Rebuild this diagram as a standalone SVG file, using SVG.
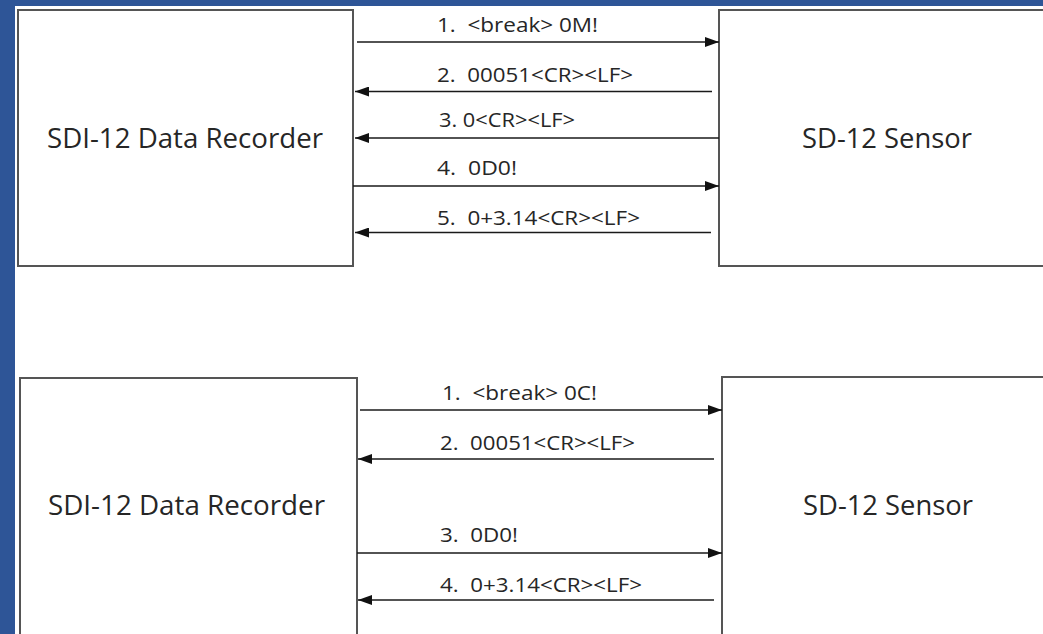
<svg xmlns="http://www.w3.org/2000/svg" width="1043" height="634" viewBox="0 0 1043 634">
<style>
.box{fill:#ffffff;stroke:#555555;stroke-width:2}
.title{font-family:"Open Sans","Liberation Sans",sans-serif;font-size:28px;fill:#262626}
.lbl{font-family:"Open Sans","Liberation Sans",sans-serif;font-size:20px;fill:#262626;white-space:pre}
.msg{stroke:#1a1a1a;stroke-width:1.6;fill:none;marker-end:url(#ah)}
</style>
<defs>
<marker id="ah" markerUnits="userSpaceOnUse" markerWidth="14" markerHeight="10" refX="14" refY="5" orient="auto">
<path d="M0,0 L14,5 L0,10 z" fill="#111111"/>
</marker>
</defs>
<rect x="0" y="0" width="1043" height="634" fill="#2E5597"/>
<rect x="15" y="6" width="1028" height="628" fill="#ffffff"/>

<g id="recorder-top">
<rect class="box" x="18" y="10" width="335" height="256"/>
<text class="title" x="47" y="148" textLength="276" lengthAdjust="spacingAndGlyphs">SDI-12 Data Recorder</text>
</g>
<g id="sensor-top">
<rect class="box" x="719" y="10" width="340" height="256"/>
<text class="title" x="802" y="148" textLength="170" lengthAdjust="spacingAndGlyphs">SD-12 Sensor</text>
</g>
<g id="recorder-bottom">
<rect class="box" x="20" y="378" width="337" height="270"/>
<text class="title" x="48" y="515" textLength="277" lengthAdjust="spacingAndGlyphs">SDI-12 Data Recorder</text>
</g>
<g id="sensor-bottom">
<rect class="box" x="722" y="377" width="340" height="270"/>
<text class="title" x="803" y="515" textLength="170" lengthAdjust="spacingAndGlyphs">SD-12 Sensor</text>
</g>

<g id="connectors">
<line class="msg" x1="357" y1="42" x2="719" y2="42"/>
<line class="msg" x1="712" y1="91.5" x2="355" y2="91.5"/>
<line class="msg" x1="719" y1="138" x2="355" y2="138"/>
<line class="msg" x1="353" y1="186" x2="719" y2="186"/>
<line class="msg" x1="711" y1="232.5" x2="355" y2="232.5"/>

<line class="msg" x1="360" y1="410" x2="722" y2="410"/>
<line class="msg" x1="714" y1="459" x2="358" y2="459"/>
<line class="msg" x1="357" y1="553" x2="722" y2="553"/>
<line class="msg" x1="714" y1="600" x2="358" y2="600"/>
</g>

<g id="labels">
<text class="lbl" xml:space="preserve" x="437" y="32" textLength="161" lengthAdjust="spacingAndGlyphs">1.  &lt;break&gt; 0M!</text>
<text class="lbl" xml:space="preserve" x="437" y="82" textLength="196" lengthAdjust="spacingAndGlyphs">2.  00051&lt;CR&gt;&lt;LF&gt;</text>
<text class="lbl" xml:space="preserve" x="439" y="127" textLength="136" lengthAdjust="spacingAndGlyphs">3. 0&lt;CR&gt;&lt;LF&gt;</text>
<text class="lbl" xml:space="preserve" x="437" y="175" textLength="80" lengthAdjust="spacingAndGlyphs">4.  0D0!</text>
<text class="lbl" xml:space="preserve" x="437" y="225" textLength="203" lengthAdjust="spacingAndGlyphs">5.  0+3.14&lt;CR&gt;&lt;LF&gt;</text>

<text class="lbl" xml:space="preserve" x="442" y="400" textLength="155" lengthAdjust="spacingAndGlyphs">1.  &lt;break&gt; 0C!</text>
<text class="lbl" xml:space="preserve" x="440" y="450" textLength="195" lengthAdjust="spacingAndGlyphs">2.  00051&lt;CR&gt;&lt;LF&gt;</text>
<text class="lbl" xml:space="preserve" x="440" y="542" textLength="78" lengthAdjust="spacingAndGlyphs">3.  0D0!</text>
<text class="lbl" xml:space="preserve" x="440" y="592" textLength="202" lengthAdjust="spacingAndGlyphs">4.  0+3.14&lt;CR&gt;&lt;LF&gt;</text>
</g>
</svg>
